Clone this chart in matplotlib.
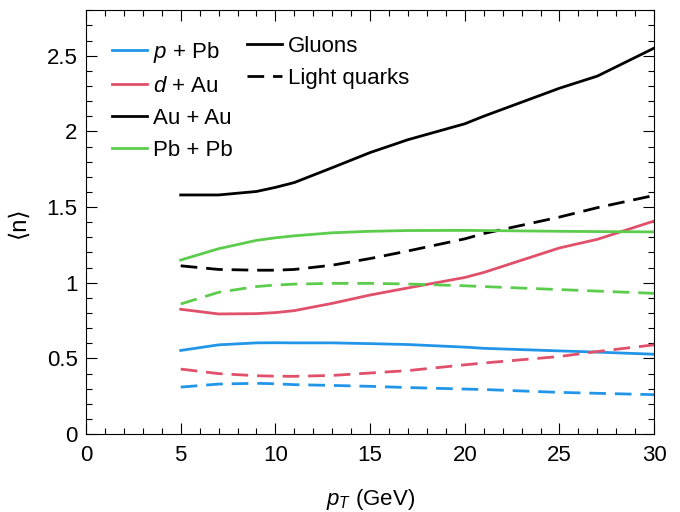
import matplotlib
matplotlib.use("Agg")
import matplotlib.pyplot as plt
from matplotlib.lines import Line2D
from matplotlib.ticker import MultipleLocator

plt.rcParams['font.family'] = ['Liberation Sans', 'DejaVu Sans']
plt.rcParams['mathtext.fontset'] = 'custom'
plt.rcParams['mathtext.rm'] = 'Liberation Sans'
plt.rcParams['mathtext.it'] = 'Liberation Sans:italic'

# transverse momentum grid (GeV)
pt = [5, 7, 9, 10, 11, 13, 15, 17, 20, 21, 25, 27, 30]

# mean number of scatterings, gluons (solid) and light quarks (dashed)
ppb_g = [0.553, 0.590, 0.603, 0.604, 0.603, 0.603, 0.598, 0.592, 0.575, 0.567, 0.550, 0.542, 0.528]
ppb_q = [0.311, 0.331, 0.336, 0.333, 0.327, 0.322, 0.316, 0.308, 0.298, 0.295, 0.276, 0.270, 0.261]
dau_g = [0.825, 0.794, 0.796, 0.803, 0.816, 0.864, 0.919, 0.966, 1.035, 1.068, 1.230, 1.287, 1.408]
dau_q = [0.430, 0.400, 0.386, 0.383, 0.382, 0.388, 0.404, 0.420, 0.458, 0.470, 0.513, 0.546, 0.590]
auau_g = [1.580, 1.580, 1.603, 1.630, 1.662, 1.760, 1.860, 1.945, 2.050, 2.100, 2.285, 2.365, 2.550]
auau_q = [1.112, 1.088, 1.083, 1.083, 1.088, 1.116, 1.160, 1.210, 1.290, 1.325, 1.434, 1.496, 1.577]
pbpb_g = [1.150, 1.225, 1.280, 1.297, 1.310, 1.330, 1.340, 1.345, 1.346, 1.345, 1.340, 1.338, 1.336]
pbpb_q = [0.860, 0.937, 0.975, 0.985, 0.991, 0.996, 0.996, 0.992, 0.980, 0.975, 0.955, 0.945, 0.930]

systems = ['$p$ + Pb', '$d$ + Au', 'Au + Au', 'Pb + Pb']
colors = ['#2196e8', '#e0506a', '#000000', '#5ccc4c']
gluons = [ppb_g, dau_g, auau_g, pbpb_g]
quarks = [ppb_q, dau_q, auau_q, pbpb_q]

lw = 2.0
dash = (6, 3.2)
fs = 16

fig = plt.figure(figsize=(6.8, 5.12), dpi=100)
ax = fig.add_axes([0.1265, 0.152, 0.8355, 0.828])

for c, g, q in zip(colors, gluons, quarks):
    ax.plot(pt, g, color=c, lw=lw)
    ax.plot(pt, q, color=c, lw=lw, dashes=dash)

ax.set_xlim(0, 30)
ax.set_ylim(0, 2.8)
ax.xaxis.set_major_locator(MultipleLocator(5))
ax.xaxis.set_minor_locator(MultipleLocator(1))
ax.yaxis.set_major_locator(MultipleLocator(0.5))
ax.yaxis.set_minor_locator(MultipleLocator(0.1))
ax.yaxis.set_major_formatter(lambda v, p: f'{v:g}')
ax.tick_params(which='both', direction='in', top=True, right=True, labelsize=fs, width=0.8)
ax.tick_params(which='major', length=8, pad=6)
ax.tick_params(axis='x', which='major', pad=8)
ax.tick_params(which='minor', length=4)
for s in ax.spines.values():
    s.set_linewidth(0.8)

ax.set_xlabel('$p_T$ (GeV)', fontsize=fs, labelpad=15)
ax.set_ylabel('⟨n⟩', fontsize=17, labelpad=12)

sys_handles = [Line2D([], [], color=c, lw=lw) for c in colors]
leg1 = ax.legend(sys_handles, systems, loc='upper left', bbox_to_anchor=(0.045, 0.93),
                 frameon=False, fontsize=fs, handlelength=1.6, handletextpad=0.25,
                 labelspacing=0.5, borderpad=0, borderaxespad=0)
ax.add_artist(leg1)

kind_handles = [Line2D([], [], color='k', lw=lw),
                Line2D([], [], color='k', lw=lw, dashes=dash)]
ax.legend(kind_handles, ['Gluons', 'Light quarks'], loc='upper left', bbox_to_anchor=(0.283, 0.94),
          frameon=False, fontsize=fs, handlelength=1.6, handletextpad=0.25,
          labelspacing=0.5, borderpad=0, borderaxespad=0)

fig.savefig('out.png', dpi=100)
